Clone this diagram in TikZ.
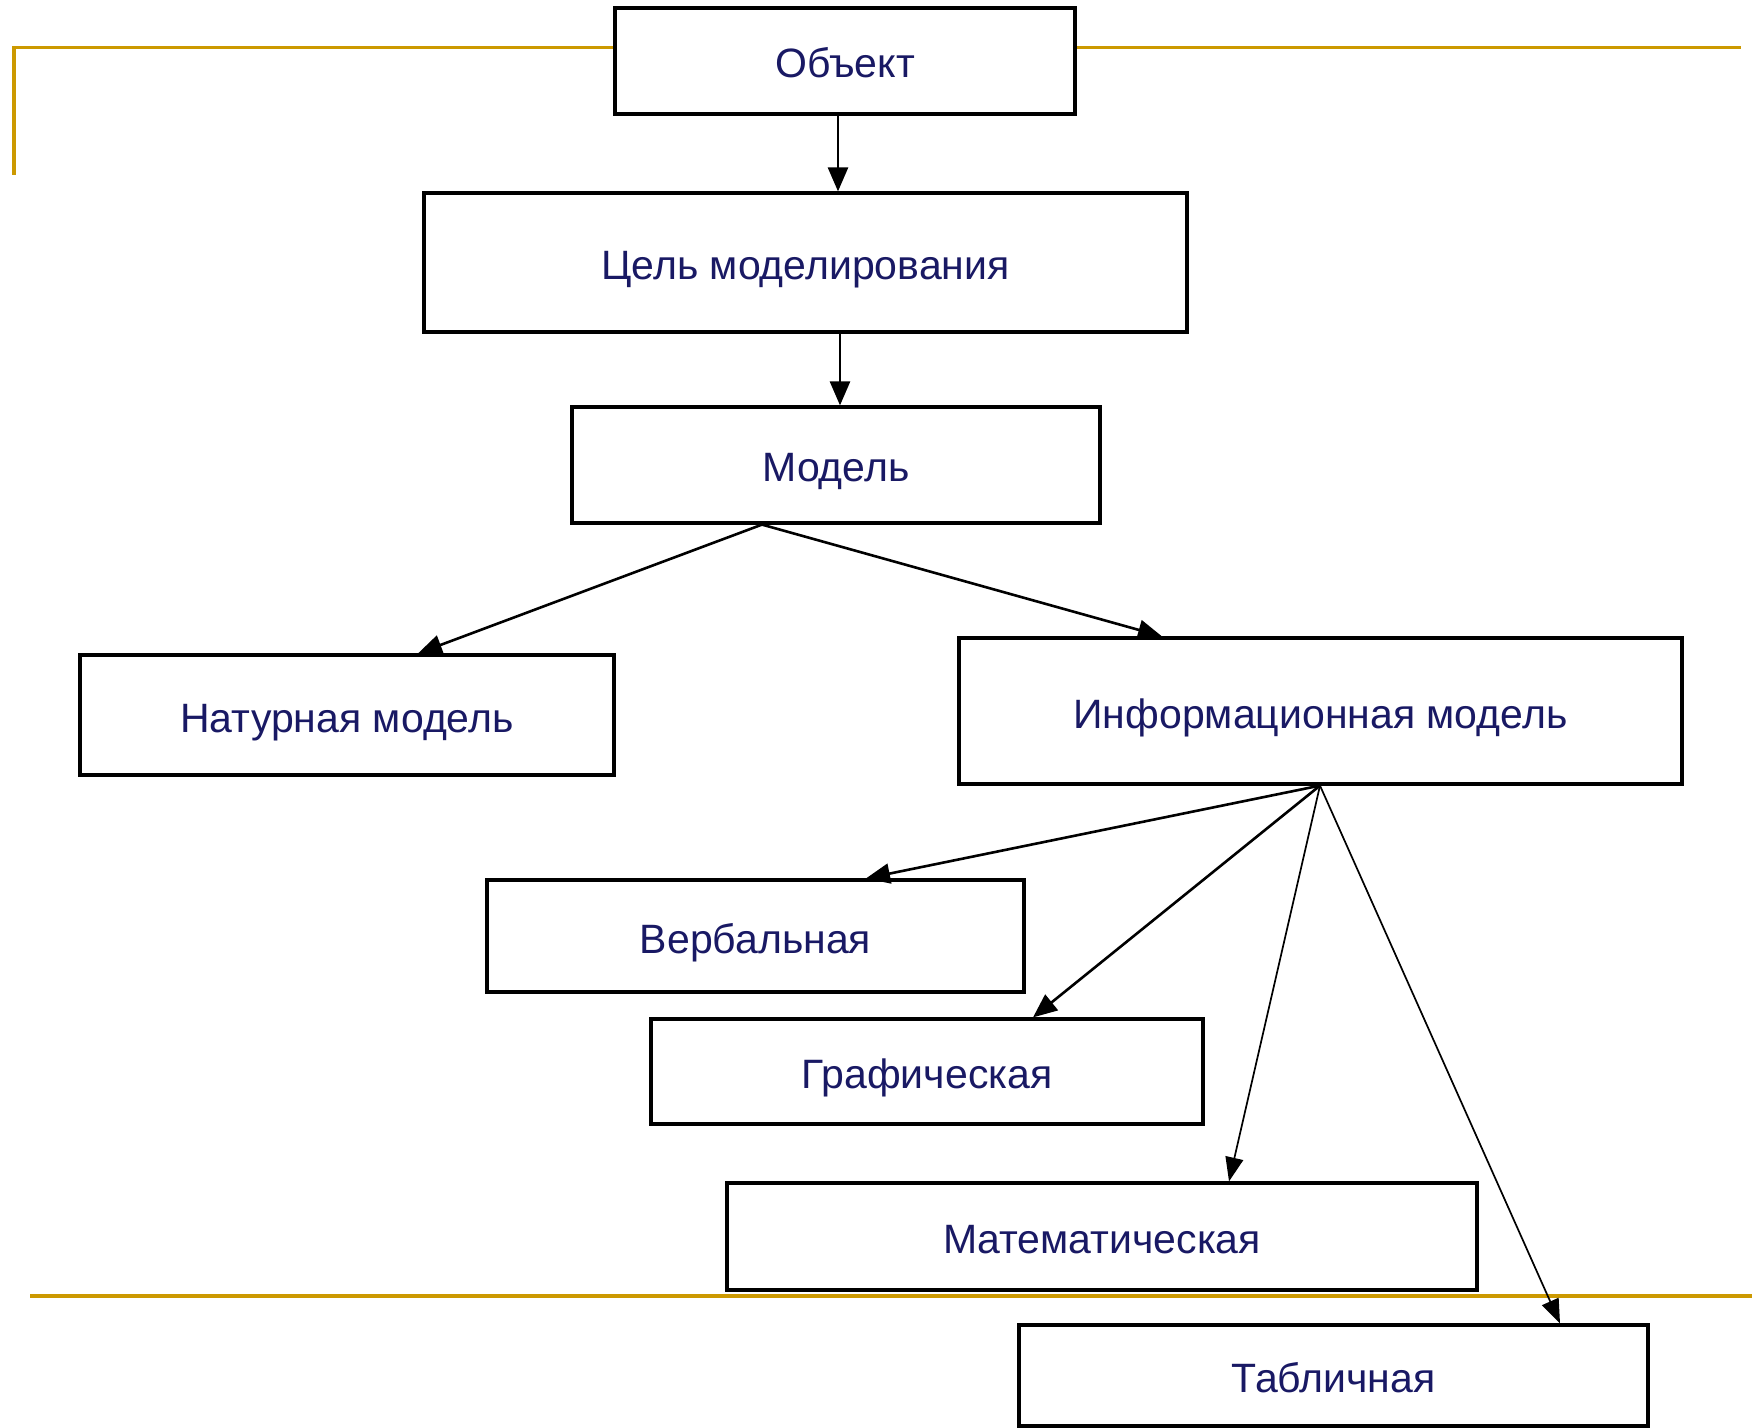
\documentclass[tikz,border=0pt]{standalone}
\usepackage{fontspec}
\setmainfont{Liberation Sans}
\usetikzlibrary{arrows.meta,calc}
\definecolor{goldline}{RGB}{204,153,0}
\definecolor{navytext}{RGB}{25,25,100}
\tikzset{
  box/.style={draw=black, line width=1.6pt, fill=white, inner sep=0pt,
    text height=20pt, text depth=3pt,
    font=\fontsize{20.5pt}{24pt}\selectfont, text=navytext},
  arr/.style={draw=black, line width=1.3pt, -{Triangle[length=12pt,width=10pt]}},
  thinarr/.style={draw=black, line width=0.85pt, -{Triangle[length=12pt,width=9pt]}},
  goldrule/.style={draw=goldline, line width=1.6pt}
}
\begin{document}
\begin{tikzpicture}[x=0.5pt,y=-0.5pt]
\useasboundingbox (0,0) rectangle (1752,1428);
\fill[white] (0,0) rectangle (1752,1428);
% gold rules
\draw[goldrule] (14,175) -- (14,47.5) -- (1741,47.5);
\draw[goldrule] (30,1296) -- (1752,1296);
% boxes
\node[box, minimum width=230pt, minimum height=53pt] (obj) at (845,61) {Объект};
\node[box, minimum width=381.5pt, minimum height=69.5pt] (goal) at (805.5,262.5) {Цель моделирования};
\node[box, minimum width=264pt, minimum height=58pt] (model) at (836,465) {Модель};
\node[box, minimum width=267pt, minimum height=60pt] (nat) at (347,715) {Натурная модель};
\node[box, minimum width=361.5pt, minimum height=73pt] (info) at (1320.5,711) {Информационная модель};
\node[box, minimum width=268.5pt, minimum height=56pt] (verb) at (755.5,936) {Вербальная};
\node[box, minimum width=276pt, minimum height=52.5pt] (graph) at (927,1071.5) {Графическая};
\node[box, minimum width=375pt, minimum height=53.5pt] (math) at (1102,1236.5) {Математическая};
\node[box, minimum width=314.5pt, minimum height=50.5pt] (tab) at (1333.5,1375.5) {Табличная};
% x positions of connector ends
\coordinate (xa) at (838,0);
\coordinate (xb) at (840,0);
\coordinate (xm) at (762,0);
\coordinate (xn) at (418,0);
\coordinate (xi) at (1162,0);
\coordinate (xs) at (1320,0);
\coordinate (xv) at (866,0);
\coordinate (xg) at (1033,0);
\coordinate (xk) at (1229,0);
\coordinate (xt) at (1560,0);
% connectors
\draw[arr] (obj.south -| xa) -- (goal.north -| xa);
\draw[arr] (goal.south -| xb) -- (model.north -| xb);
\draw[arr] (model.south -| xm) -- (nat.north -| xn);
\draw[arr] (model.south -| xm) -- (info.north -| xi);
\draw[arr] (info.south -| xs) -- (verb.north -| xv);
\draw[arr] (info.south -| xs) -- (graph.north -| xg);
\draw[thinarr] (info.south -| xs) -- (math.north -| xk);
\draw[thinarr] (info.south -| xs) -- (tab.north -| xt);
\end{tikzpicture}
\end{document}
